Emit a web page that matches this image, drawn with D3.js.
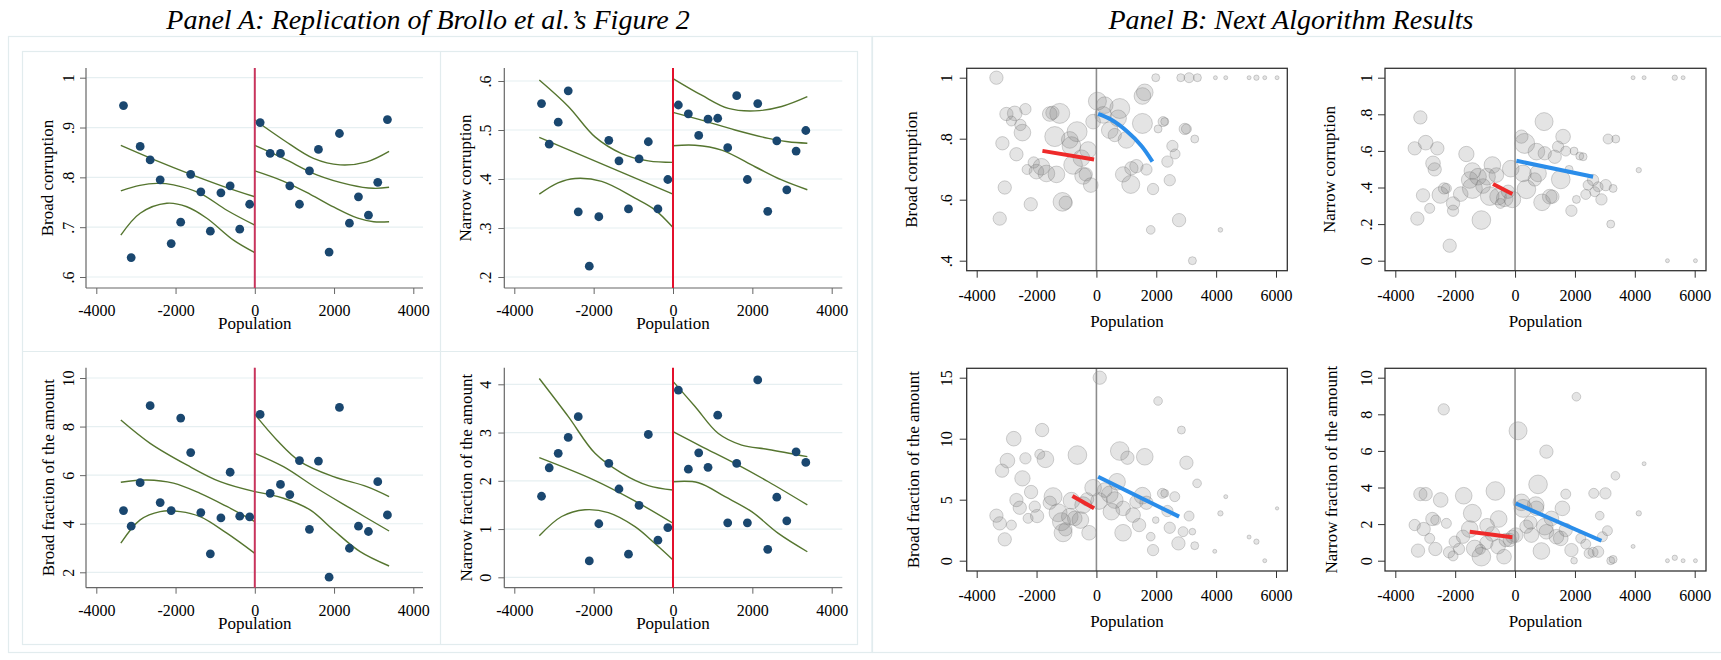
<!DOCTYPE html>
<html>
<head>
<meta charset="utf-8">
<script src="https://cdn.jsdelivr.net/npm/d3@7"></script>
<style>
  body { margin: 0; background: #fff; }
  svg { display: block; }
</style>
</head>
<body>
<svg id="chart" width="1721" height="660"></svg>
<script>
// ---------- Panel A: binned means and quadratic fits with confidence bands ----------
const popBins = [-3314, -3120, -2893, -2641, -2388, -2110, -1870, -1618, -1362, -1122, -855, -622, -380, -130,
                 135, 387, 648, 883, 1127, 1379, 1606, 1875, 2136, 2388, 2616, 2868, 3103, 3347];

const broadCorrMeans = [0.944, 0.639, 0.862, 0.835, 0.795, 0.667, 0.710, 0.806, 0.771, 0.692, 0.769, 0.783, 0.696, 0.746,
                        0.910, 0.848, 0.848, 0.783, 0.746, 0.813, 0.856, 0.650, 0.888, 0.708, 0.761, 0.724, 0.790, 0.916];
const narrowCorrMeans = [0.554, 0.471, 0.516, 0.580, 0.333, 0.222, 0.323, 0.479, 0.437, 0.339, 0.441, 0.476, 0.339, 0.399,
                         0.551, 0.533, 0.489, 0.522, 0.524, 0.464, 0.570, 0.399, 0.554, 0.334, 0.478, 0.378, 0.457, 0.499];
const broadFracMeans = [4.54, 3.90, 5.69, 8.86, 4.87, 4.54, 8.35, 6.93, 4.46, 2.76, 4.24, 6.12, 4.31, 4.28,
                        8.50, 5.25, 5.62, 5.20, 6.60, 3.77, 6.58, 1.80, 8.79, 2.99, 3.90, 3.68, 5.73, 4.36];
const narrowFracMeans = [1.68, 2.27, 2.57, 2.90, 3.33, 0.34, 1.11, 2.36, 1.83, 0.48, 1.49, 2.96, 0.77, 1.03,
                         3.88, 2.24, 2.58, 2.28, 3.36, 1.13, 2.36, 1.13, 4.09, 0.58, 1.66, 1.17, 2.60, 2.38];

// fitted curve and 95% band, each side of the cutoff: [upper, fit, lower] left, then right
const broadCorrFits = [
  [[-3381, 0.864], [-2500, 0.834], [-1615, 0.806], [-800, 0.782], [0, 0.761]],
  [[-3381, 0.773], [-2900, 0.784], [-2473, 0.788], [-2052, 0.785], [-1379, 0.768], [-706, 0.734], [0, 0.704]],
  [[-3381, 0.684], [-2893, 0.728], [-2220, 0.748], [-1716, 0.741], [-1211, 0.718], [-538, 0.674], [0, 0.649]],
  [[0, 0.915], [723, 0.875], [1480, 0.838], [2153, 0.825], [2826, 0.831], [3389, 0.852]],
  [[0, 0.864], [723, 0.838], [1564, 0.805], [2405, 0.785], [2994, 0.778], [3389, 0.780]],
  [[0, 0.813], [700, 0.793], [1400, 0.766], [2000, 0.740], [2600, 0.718], [3000, 0.711], [3389, 0.711]]
];
const narrowCorrFits = [
  [[-3370, 0.602], [-2638, 0.548], [-1966, 0.486], [-1294, 0.452], [-622, 0.437], [0, 0.434]],
  [[-3370, 0.485], [0, 0.369]],
  [[-3370, 0.369], [-2900, 0.392], [-2470, 0.401], [-1798, 0.395], [-958, 0.361], [-454, 0.337], [0, 0.301]],
  [[0, 0.605], [723, 0.571], [1395, 0.544], [2067, 0.539], [2739, 0.548], [3386, 0.568]],
  [[0, 0.536], [723, 0.520], [1563, 0.500], [2403, 0.483], [2900, 0.476], [3386, 0.473]],
  [[0, 0.468], [555, 0.469], [1227, 0.459], [2067, 0.425], [2739, 0.398], [3386, 0.378]]
];
const broadFracFits = [
  [[-3381, 8.27], [-2641, 7.31], [-1716, 6.42], [-875, 5.73], [0, 5.32]],
  [[-3381, 5.71], [-2725, 5.80], [-2052, 5.67], [-1379, 5.25], [-706, 4.71], [0, 4.09]],
  [[-3381, 3.20], [-2893, 4.16], [-2388, 4.50], [-1884, 4.50], [-1379, 4.29], [-706, 3.61], [0, 2.78]],
  [[0, 8.50], [555, 7.45], [1144, 6.56], [1985, 5.94], [2826, 5.53], [3389, 5.12]],
  [[0, 6.90], [723, 6.35], [1564, 5.46], [2405, 4.64], [3389, 3.70]],
  [[0, 5.32], [723, 5.05], [1396, 4.57], [1985, 3.74], [2658, 2.85], [3389, 2.26]]
];
const narrowFracFits = [
  [[-3370, 4.12], [-2638, 3.33], [-1966, 2.57], [-1294, 2.16], [-622, 1.90], [0, 1.81]],
  [[-3370, 2.48], [-2000, 2.02], [-1000, 1.60], [0, 1.12]],
  [[-3370, 0.86], [-2806, 1.26], [-2218, 1.40], [-1630, 1.34], [-958, 1.05], [-454, 0.70], [0, 0.36]],
  [[0, 4.06], [555, 3.54], [1143, 2.98], [1731, 2.74], [2403, 2.65], [3386, 2.50]],
  [[0, 3.02], [723, 2.71], [1563, 2.36], [2403, 1.98], [3386, 1.50]],
  [[0, 1.98], [639, 1.96], [1311, 1.67], [1983, 1.36], [2655, 0.91], [3386, 0.53]]
];

// ---------- Panel B: municipalities [population, outcome, weight] and local fits ----------
const broadCorrObs = [
  [-3341,1.000,20],[-3007,0.881,20],[-2729,0.883,22],[-2840,0.858,15],[-2372,0.897,17],[-2539,0.845,17],[-2472,0.820,25],
  [-3141,0.785,20],[-2673,0.749,20],[-3063,0.640,20],[-3230,0.538,20],[-2194,0.585,20],[-2316,0.699,15],[-2094,0.722,17],
  [-2005,0.692,22],[-1838,0.708,25],[-1671,0.686,25],[-1559,0.881,22],[-1470,0.885,20],[-1225,0.883,30],[-1392,0.807,30],
  [-1336,0.683,25],[-891,0.796,25],[-646,0.823,30],[-835,0.776,28],[-780,0.714,28],[-501,0.736,25],[-278,0.763,25],
  [-445,0.678,25],[-356,0.683,20],[-189,0.648,22],[-1136,0.593,28],[-1025,0.590,20],[-111,0.856,22],[33,0.923,27],
  [278,0.910,25],[223,0.878,25],[780,0.899,30],[724,0.867,25],[445,0.828,25],[613,0.812,20],[1002,0.796,25],
  [1537,0.940,25],[1615,0.952,25],[1537,0.850,30],[1982,1.000,12],[2227,0.856,15],[2283,0.856,12],[2060,0.832,12],
  [2951,0.832,17],[3007,0.832,15],[3285,0.799,12],[2539,0.776,17],[2628,0.750,15],[2372,0.725,17],[2450,0.664,17],
  [1169,0.703,20],[1336,0.710,20],[1671,0.699,17],[891,0.683,23],[1147,0.650,27],[1893,0.635,17],[2762,0.533,20],
  [1815,0.501,13],[3207,0.400,12],[4143,0.501,7],[2818,1.000,12],[3096,1.000,15],[3374,1.000,12],[3976,1.000,6],
  [4321,1.000,6],[5101,1.000,6],[5346,1.000,8],[5624,1.000,6],[6036,1.000,6]
];
const narrowCorrObs = [
  [-3352,0.614,20],[-3163,0.783,20],[-2985,0.645,22],[-2595,0.614,20],[-2740,0.532,22],[-2684,0.499,20],[-3074,0.357,20],
  [-2851,0.286,15],[-3263,0.230,20],[-2495,0.359,25],[-2372,0.395,17],[-2294,0.395,15],[-2071,0.313,20],[-2071,0.273,17],
  [-2183,0.082,20],[-1626,0.583,23],[-1815,0.364,22],[-1426,0.490,25],[-1515,0.441,25],[-1426,0.395,30],[-1236,0.459,25],
  [-1069,0.408,22],[-1125,0.222,28],[-757,0.523,25],[-935,0.459,25],[-624,0.468,22],[-846,0.353,28],[-568,0.350,25],
  [-345,0.341,25],[-490,0.313,15],[-145,0.503,25],[-89,0.335,25],[-234,0.377,20],[212,0.678,20],[323,0.641,30],
  [267,0.477,25],[379,0.390,28],[657,0.444,20],[713,0.596,25],[768,0.477,25],[969,0.760,27],[991,0.587,20],
  [902,0.319,25],[1325,0.568,20],[1437,0.623,17],[1604,0.678,22],[1693,0.599,15],[1971,0.599,12],[1526,0.444,28],
  [1158,0.350,22],[1247,0.350,20],[1804,0.499,12],[2161,0.572,12],[2272,0.568,12],[2049,0.335,12],[1882,0.273,17],
  [2361,0.362,15],[2439,0.413,15],[2606,0.441,17],[2662,0.377,15],[2773,0.404,15],[3029,0.413,17],[2885,0.335,17],
  [3274,0.395,12],[3107,0.665,15],[3363,0.665,12],[3196,0.200,12],[4132,0.495,8],[3942,1.000,6],[4310,1.000,6],
  [5335,1.000,8],[5613,1.000,6],[5090,0.000,6],[6025,0.000,6]
];
const broadFracObs = [
  [111,15.0,20],[2060,13.09,13],[2840,10.71,12],[-1815,10.71,20],[-2762,10.0,22],[-1893,8.72,15],[-1704,8.31,25],
  [-2372,8.39,17],[-2974,8.20,22],[-3152,7.38,20],[-635,8.66,28],[780,8.99,28],[1036,8.44,20],[1615,8.52,25],
  [3007,8.03,20],[3363,6.34,13],[-2472,6.75,23],[-2183,5.63,20],[-2673,4.97,20],[-2561,4.34,20],[-2060,4.43,17],
  [-2283,3.47,15],[-1982,3.66,20],[-3341,3.69,20],[-3230,3.06,20],[-2840,2.92,15],[-3063,1.75,20],[-1559,4.75,20],
  [-1448,5.25,27],[-1281,3.93,27],[-1169,3.20,27],[-1114,2.29,27],[-1036,2.57,20],[-891,3.61,25],[-724,3.47,22],
  [-835,4.92,25],[-535,3.33,25],[-445,4.56,25],[-312,5.03,20],[-245,2.29,22],[-111,5.98,25],[89,4.89,25],
  [278,5.79,22],[445,5.44,25],[690,6.47,25],[613,4.97,25],[501,4.02,25],[891,2.29,25],[891,4.29,22],
  [1225,3.74,22],[1426,2.92,20],[1336,4.84,20],[1537,5.33,25],[1671,4.75,20],[1815,1.97,13],[1893,0.87,17],
  [1982,3.33,10],[2205,5.52,15],[2283,5.52,12],[2617,5.25,15],[2372,4.07,17],[2450,2.70,17],[3096,3.66,15],
  [2896,2.38,15],[3207,2.38,10],[2740,1.42,20],[3285,1.23,12],[4143,3.88,8],[4321,5.25,6],[3954,0.77,6],
  [5101,1.94,6],[5346,1.56,8],[5624,0.00,6],[6036,4.29,5]
];
const narrowFracObs = [
  [-2383,8.27,17],[100,7.10,27],[2049,8.96,13],[1047,5.96,20],[4310,5.30,6],[3352,4.64,13],[768,4.17,28],
  [-3163,3.64,20],[-2985,3.64,20],[-2484,3.32,22],[-1715,3.55,25],[-657,3.81,28],[1693,3.64,15],[2628,3.68,15],
  [3018,3.68,17],[212,3.19,25],[690,3.04,25],[1581,2.86,22],[-1426,2.59,27],[-546,2.28,25],[-2762,2.28,20],
  [-2651,2.22,15],[-2294,2.04,15],[-3352,1.95,17],[-3052,1.73,20],[-2851,1.22,15],[-3241,0.55,20],[-2662,0.64,20],
  [-2205,0.46,17],[-2071,0.26,15],[-2016,1.04,17],[-1871,0.64,17],[-1737,1.31,20],[-1515,1.73,25],[-1348,0.67,25],
  [-1125,0.22,28],[-1158,0.62,15],[-935,1.91,22],[-958,0.98,20],[-757,1.46,22],[-568,0.77,22],[-368,0.22,22],
  [-312,1.13,20],[-178,1.13,20],[-89,1.31,20],[22,1.40,22],[267,2.86,27],[379,1.86,20],[512,2.08,20],
  [546,1.40,22],[713,2.86,22],[880,0.53,25],[991,1.86,25],[1047,1.58,22],[1214,2.31,22],[1381,1.31,22],
  [1526,1.22,22],[1693,1.68,20],[1882,0.58,20],[1971,0.00,10],[2194,1.22,15],[2361,0.91,15],[2472,0.40,15],
  [2606,0.46,15],[2773,0.49,17],[2829,2.46,13],[2918,1.31,15],[3085,1.64,15],[3196,0.00,12],[3274,0.07,12],
  [4132,2.59,8],[3942,0.78,6],[5090,0.00,6],[5335,0.16,8],[5613,0.00,6],[6025,0.00,6]
];

const broadCorrBelow = [[-1804, 0.760], [-78, 0.732]];
const broadCorrAbove = [[56, 0.881], [500, 0.862], [1000, 0.826], [1500, 0.777], [1871, 0.725]];
const narrowCorrBelow = [[-735, 0.419], [-89, 0.364]];
const narrowCorrAbove = [[45, 0.546], [2606, 0.459]];
const broadFracBelow = [[-802, 5.30], [-78, 4.29]];
const broadFracAbove = [[56, 6.88], [2762, 3.61]];
const narrowFracBelow = [[-1515, 1.58], [-89, 1.28]];
const narrowFracAbove = [[22, 3.13], [2884, 1.09]];

// ---------- tick values ----------
const xTicksA = [-4000, -2000, 0, 2000, 4000];
const xTicksB = [-4000, -2000, 0, 2000, 4000, 6000];
const yTicksBroadCorrA = [0.6, 0.7, 0.8, 0.9, 1];
const yTicksNarrowCorrA = [0.2, 0.3, 0.4, 0.5, 0.6];
const yTicksBroadFracA = [2, 4, 6, 8, 10];
const yTicksNarrowFracA = [0, 1, 2, 3, 4];
const yTicksBroadCorrB = [0.4, 0.6, 0.8, 1];
const yTicksNarrowCorrB = [0, 0.2, 0.4, 0.6, 0.8, 1];
const yTicksBroadFracB = [0, 5, 10, 15];
const yTicksNarrowFracB = [0, 2, 4, 6, 8, 10];

// ---------- drawing ----------
const FONT = "'Liberation Serif', 'Times New Roman', serif";
const svg = d3.select("#chart");
svg.append("rect").attr("width", 1721).attr("height", 660).attr("fill", "#fff");

const faint = "#e2ecee";
const gridColor = "#e6eff1";
const navy = "#1a476f";
const olive = "#55752f";

// a Stata-style label: ".6" rather than "0.6"
const statFmt = d => {
  const s = String(+(+d).toFixed(3));
  return s.startsWith("0.") ? s.slice(1) : s;
};

function serifText(sel, size) {
  return sel.style("font-family", FONT).style("font-size", size + "px").attr("fill", "#000");
}

// region outlines
const regions = svg.append("g").attr("fill", "none").attr("stroke", faint).attr("stroke-width", 1.2);
regions.append("rect").attr("x", 8.5).attr("y", 36.5).attr("width", 863.5).attr("height", 616);
regions.append("rect").attr("x", 22.5).attr("y", 51.5).attr("width", 835).attr("height", 593);
regions.append("line").attr("x1", 440.5).attr("x2", 440.5).attr("y1", 51.5).attr("y2", 644.5);
regions.append("line").attr("x1", 22.5).attr("x2", 857.5).attr("y1", 351.5).attr("y2", 351.5);
regions.append("rect").attr("x", 872.5).attr("y", 36.5).attr("width", 900).attr("height", 616);

// panel titles
serifText(svg.append("text").attr("x", 428).attr("y", 29).attr("text-anchor", "middle"), 28)
  .style("font-style", "italic")
  .text("Panel A: Replication of Brollo et al.\u2019s Figure 2");
serifText(svg.append("text").attr("x", 1291).attr("y", 29).attr("text-anchor", "middle"), 28)
  .style("font-style", "italic")
  .text("Panel B: Next Algorithm Results");

function styleAxis(sel, tickColor) {
  sel.attr("font-family", null).attr("font-size", null);
  sel.select(".domain").remove();
  sel.selectAll(".tick line").attr("stroke", tickColor).attr("stroke-width", 1);
  serifText(sel.selectAll(".tick text"), 16);
}

function drawA(c, means, fits) {
  const g = svg.append("g");
  const x = d3.scaleLinear().domain([-4000, 4000]).range(c.xr);
  const y = d3.scaleLinear().domain(c.yd).range(c.yr);

  g.append("g").selectAll("line").data(c.yTicks).join("line")
    .attr("x1", c.ax[0]).attr("x2", c.ax[1])
    .attr("y1", d => y(d)).attr("y2", d => y(d))
    .attr("stroke", gridColor).attr("stroke-width", 1.2);

  const xa = g.append("g").attr("transform", `translate(0,${c.ay[1]})`)
    .call(d3.axisBottom(x).tickValues(xTicksA).tickSize(6).tickSizeOuter(0).tickFormat(d => String(d)));
  styleAxis(xa, "#666");
  xa.selectAll(".tick text").attr("y", c.xtb - c.ay[1]).attr("dy", 0);

  const ya = g.append("g").attr("transform", `translate(${c.ax[0]},0)`)
    .call(d3.axisLeft(y).tickValues(c.yTicks).tickSize(6).tickSizeOuter(0).tickFormat(statFmt));
  styleAxis(ya, "#666");
  ya.selectAll(".tick text").attr("x", 0).attr("dy", 0).attr("text-anchor", "middle")
    .attr("transform", `translate(${c.ylb - c.ax[0]},0) rotate(-90)`);

  g.append("line").attr("x1", c.ax[0]).attr("x2", c.ax[1]).attr("y1", c.ay[1]).attr("y2", c.ay[1])
    .attr("stroke", "#666").attr("stroke-width", 1.2);
  g.append("line").attr("x1", c.ax[0]).attr("x2", c.ax[0]).attr("y1", c.ay[0]).attr("y2", c.ay[1])
    .attr("stroke", "#666").attr("stroke-width", 1.2);

  const line = d3.line().x(d => x(d[0])).y(d => y(d[1])).curve(d3.curveCatmullRom.alpha(0.5));
  g.append("g").selectAll("path").data(fits).join("path")
    .attr("d", line).attr("fill", "none").attr("stroke", olive).attr("stroke-width", 1.4);

  g.append("line").attr("x1", x(0)).attr("x2", x(0)).attr("y1", c.ay[0]).attr("y2", c.ay[1])
    .attr("stroke", c.cut).attr("stroke-width", 2);

  g.append("g").selectAll("circle").data(popBins).join("circle")
    .attr("cx", d => x(d)).attr("cy", (d, i) => y(means[i])).attr("r", 4.4).attr("fill", navy);

  serifText(g.append("text").attr("transform", `translate(${c.ttb},${(c.ay[0] + c.ay[1]) / 2}) rotate(-90)`)
    .attr("text-anchor", "middle"), 17).text(c.title);
  serifText(g.append("text").attr("x", x(0)).attr("y", c.pb).attr("text-anchor", "middle"), 17)
    .text("Population");
}

function drawB(c, obs, below, above) {
  const g = svg.append("g");
  const x = d3.scaleLinear().domain([-4000, 6000]).range(c.xr);
  const y = d3.scaleLinear().domain(c.yd).range(c.yr);
  const r = d3.scaleLinear().domain([0, 30]).range([0, 10]);

  g.append("g").selectAll("circle").data(obs).join("circle")
    .attr("cx", d => x(d[0])).attr("cy", d => y(d[1])).attr("r", d => r(d[2]))
    .attr("fill", "rgba(120,120,120,0.2)").attr("stroke", "rgba(110,110,110,0.3)").attr("stroke-width", 1);

  g.append("line").attr("x1", x(0)).attr("x2", x(0)).attr("y1", c.fy[0]).attr("y2", c.fy[1])
    .attr("stroke", "#8c8c8c").attr("stroke-width", 1.6);

  const line = d3.line().x(d => x(d[0])).y(d => y(d[1])).curve(d3.curveCatmullRom.alpha(0.5));
  g.append("path").attr("d", line(below)).attr("fill", "none").attr("stroke", "#ee2a2a").attr("stroke-width", 4);
  g.append("path").attr("d", line(above)).attr("fill", "none").attr("stroke", "#2a8dea").attr("stroke-width", 4);

  g.append("rect").attr("x", c.fx[0]).attr("y", c.fy[0])
    .attr("width", c.fx[1] - c.fx[0]).attr("height", c.fy[1] - c.fy[0])
    .attr("fill", "none").attr("stroke", "#333").attr("stroke-width", 1.3);

  const xa = g.append("g").attr("transform", `translate(0,${c.fy[1]})`)
    .call(d3.axisBottom(x).tickValues(xTicksB).tickSize(7).tickSizeOuter(0).tickFormat(d => String(d)));
  styleAxis(xa, "#333");
  xa.selectAll(".tick text").attr("y", c.xtb - c.fy[1]).attr("dy", 0);

  const ya = g.append("g").attr("transform", `translate(${c.fx[0]},0)`)
    .call(d3.axisLeft(y).tickValues(c.yTicks).tickSize(7).tickSizeOuter(0).tickFormat(statFmt));
  styleAxis(ya, "#333");
  ya.selectAll(".tick text").attr("x", 0).attr("dy", 0).attr("text-anchor", "middle")
    .attr("transform", `translate(${c.ylb - c.fx[0]},0) rotate(-90)`);

  serifText(g.append("text").attr("transform", `translate(${c.ttb},${(c.fy[0] + c.fy[1]) / 2}) rotate(-90)`)
    .attr("text-anchor", "middle"), 17).text(c.title);
  serifText(g.append("text").attr("x", (c.fx[0] + c.fx[1]) / 2).attr("y", c.pb).attr("text-anchor", "middle"), 17)
    .text("Population");
}

// Panel A layout
drawA({ ax: [86, 423], ay: [68, 288], xr: [96.3, 413.3], yd: [0.6, 1], yr: [277, 77.7],
        yTicks: yTicksBroadCorrA, ylb: 73.5, ttb: 53, xtb: 316, pb: 329, cut: "#c8345c",
        title: "Broad corruption" }, broadCorrMeans, broadCorrFits);
drawA({ ax: [504.3, 842.3], ay: [68, 288], xr: [514.3, 831.7], yd: [0.2, 0.6], yr: [277, 81],
        yTicks: yTicksNarrowCorrA, ylb: 490.5, ttb: 470.5, xtb: 316, pb: 329, cut: "#e3102c",
        title: "Narrow corruption" }, narrowCorrMeans, narrowCorrFits);
drawA({ ax: [86, 423], ay: [367.7, 587.7], xr: [96.3, 413.3], yd: [2, 10], yr: [572.3, 378],
        yTicks: yTicksBroadFracA, ylb: 73.5, ttb: 53.5, xtb: 616, pb: 629, cut: "#c8345c",
        title: "Broad fraction of the amount" }, broadFracMeans, broadFracFits);
drawA({ ax: [504.3, 842.3], ay: [367.7, 587.7], xr: [514.3, 831.7], yd: [0, 4], yr: [577.3, 384.3],
        yTicks: yTicksNarrowFracA, ylb: 490.5, ttb: 471.5, xtb: 616, pb: 629, cut: "#e3102c",
        title: "Narrow fraction of the amount" }, narrowFracMeans, narrowFracFits);

// Panel B layout
drawB({ fx: [966.7, 1287.3], fy: [68.3, 270.7], xr: [976.7, 1276], yd: [0.4, 1], yr: [260.7, 77.7],
        yTicks: yTicksBroadCorrB, ylb: 951.7, ttb: 917, xtb: 301, pb: 327,
        title: "Broad corruption" }, broadCorrObs, broadCorrBelow, broadCorrAbove);
drawB({ fx: [1385, 1706], fy: [68.3, 270.7], xr: [1395.3, 1694.7], yd: [0, 1], yr: [260.7, 77.7],
        yTicks: yTicksNarrowCorrB, ylb: 1371.7, ttb: 1335, xtb: 301, pb: 327,
        title: "Narrow corruption" }, narrowCorrObs, narrowCorrBelow, narrowCorrAbove);
drawB({ fx: [966.7, 1287.3], fy: [368.3, 571], xr: [976.7, 1276], yd: [0, 15], yr: [560.7, 377.7],
        yTicks: yTicksBroadFracB, ylb: 952, ttb: 919, xtb: 601, pb: 627,
        title: "Broad fraction of the amount" }, broadFracObs, broadFracBelow, broadFracAbove);
drawB({ fx: [1385, 1706], fy: [368.3, 571], xr: [1395.3, 1694.7], yd: [0, 10], yr: [560.7, 377.7],
        yTicks: yTicksNarrowFracB, ylb: 1371.7, ttb: 1337, xtb: 601, pb: 627,
        title: "Narrow fraction of the amount" }, narrowFracObs, narrowFracBelow, narrowFracAbove);
</script>
</body>
</html>
